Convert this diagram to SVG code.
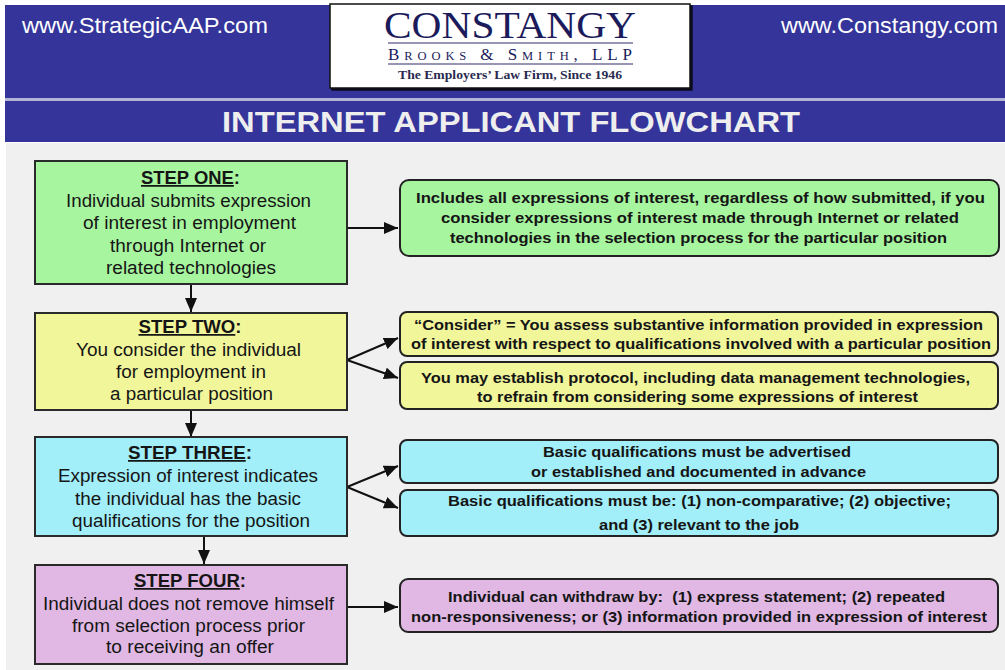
<svg xmlns="http://www.w3.org/2000/svg" width="1005" height="670" viewBox="0 0 1005 670">
<defs>
<marker id="ah" markerUnits="userSpaceOnUse" markerWidth="14" markerHeight="12" refX="14" refY="6" orient="auto">
<path d="M0,0 L14,6 L0,12 z" fill="#111"/>
</marker>
<filter id="sh" x="-5%" y="-5%" width="110%" height="115%">
<feDropShadow dx="2" dy="2" stdDeviation="0.6" flood-color="#000" flood-opacity="0.8"/>
</filter>
</defs>
<style>
.step{stroke:#2a2a2a;stroke-width:2}
.note{stroke:#222;stroke-width:2}
.g{fill:#a8f5a0}.y{fill:#f1f69b}.c{fill:#a2eef9}.p{fill:#e0b8e3}
.lt{font-family:"Liberation Sans",Arial,sans-serif;font-size:17.5px;fill:#151515;text-anchor:middle}
.st{font-family:"Liberation Sans",Arial,sans-serif;font-size:17.5px;font-weight:bold;fill:#151515;text-anchor:middle}
.rt{font-family:"Liberation Sans",Arial,sans-serif;font-size:15.5px;font-weight:bold;fill:#151515;text-anchor:middle}
.conn{stroke:#111;stroke-width:2;fill:none;marker-end:url(#ah)}
.hd{font-family:"Liberation Sans",Arial,sans-serif;font-size:22px;fill:#ffffff}
</style>
<rect x="0" y="0" width="1005" height="670" fill="#ffffff"/>
<rect x="6" y="143" width="999" height="527" fill="#f0f0f0"/>
<rect x="5" y="5" width="1000" height="93" fill="#34349a"/>
<rect x="5" y="98" width="1000" height="3" fill="#b4b4d6"/>
<rect x="5" y="101" width="1000" height="41" fill="#34349a"/>
<text class="hd" x="22" y="33" textLength="246" lengthAdjust="spacingAndGlyphs">www.StrategicAAP.com</text>
<text class="hd" x="781" y="33" textLength="217" lengthAdjust="spacingAndGlyphs">www.Constangy.com</text>
<g id="logo">
<rect x="330" y="4" width="360" height="84" fill="#ffffff" stroke="#111" stroke-width="1.5" filter="url(#sh)"/>
<text x="510" y="38" text-anchor="middle" font-family="Liberation Serif,'Times New Roman',serif" font-size="38" fill="#1b1b5c" textLength="252" lengthAdjust="spacingAndGlyphs">CONSTANGY</text>
<rect x="388" y="42" width="245" height="2" fill="#9696b4"/>
<text x="510" y="60" text-anchor="middle" font-family="Liberation Serif,'Times New Roman',serif" fill="#1b1b5c" textLength="244" lengthAdjust="spacing"><tspan font-size="17">B</tspan><tspan font-size="12.5">ROOKS</tspan><tspan font-size="17"> &amp; S</tspan><tspan font-size="12.5">MITH</tspan><tspan font-size="17">, LLP</tspan></text>
<rect x="388" y="63" width="245" height="2" fill="#9696b4"/>
<text x="510" y="79" text-anchor="middle" font-family="Liberation Serif,'Times New Roman',serif" font-size="13.5" font-weight="bold" fill="#2a2a50" textLength="224" lengthAdjust="spacingAndGlyphs">The Employers’ Law Firm, Since 1946</text>
</g>
<text x="511" y="132" text-anchor="middle" font-family="Liberation Sans,Arial,sans-serif" font-size="30" font-weight="bold" fill="#eeeeee" textLength="578" lengthAdjust="spacingAndGlyphs">INTERNET APPLICANT FLOWCHART</text>

<g id="connectors">
<line class="conn" x1="191" y1="284" x2="191" y2="312"/>
<line class="conn" x1="191" y1="410" x2="191" y2="437"/>
<line class="conn" x1="204" y1="536" x2="204" y2="564"/>
<line class="conn" x1="347" y1="228" x2="398" y2="228"/>
<line class="conn" x1="347" y1="360" x2="398" y2="338"/>
<line class="conn" x1="347" y1="360" x2="398" y2="378"/>
<line class="conn" x1="347" y1="487" x2="398" y2="466"/>
<line class="conn" x1="347" y1="487" x2="398" y2="508"/>
<line class="conn" x1="347" y1="607" x2="398" y2="607"/>
</g>

<g id="step1">
<rect class="step g" x="35" y="161" width="312" height="123"/>
<text class="st" x="190.5" y="184" textLength="99" lengthAdjust="spacingAndGlyphs"><tspan text-decoration="underline">STEP ONE</tspan>:</text>
<text class="lt" x="188.5" y="207" textLength="245" lengthAdjust="spacingAndGlyphs">Individual submits expression</text>
<text class="lt" x="189.5" y="229" textLength="213" lengthAdjust="spacingAndGlyphs">of interest in employment</text>
<text class="lt" x="188" y="252" textLength="156" lengthAdjust="spacingAndGlyphs">through Internet or</text>
<text class="lt" x="191" y="274" textLength="170" lengthAdjust="spacingAndGlyphs">related technologies</text>
</g>
<g id="step2">
<rect class="step y" x="35" y="313" width="312" height="97"/>
<text class="st" x="190" y="333" textLength="103" lengthAdjust="spacingAndGlyphs"><tspan text-decoration="underline">STEP TWO</tspan>:</text>
<text class="lt" x="188.5" y="356" textLength="225" lengthAdjust="spacingAndGlyphs">You consider the individual</text>
<text class="lt" x="191" y="378" textLength="150" lengthAdjust="spacingAndGlyphs">for employment in</text>
<text class="lt" x="191.5" y="400" textLength="163" lengthAdjust="spacingAndGlyphs">a particular position</text>
</g>
<g id="step3">
<rect class="step c" x="35" y="437" width="312" height="99"/>
<text class="st" x="190" y="459" textLength="124" lengthAdjust="spacingAndGlyphs"><tspan text-decoration="underline">STEP THREE</tspan>:</text>
<text class="lt" x="188" y="482" textLength="260" lengthAdjust="spacingAndGlyphs">Expression of interest indicates</text>
<text class="lt" x="188" y="505" textLength="226" lengthAdjust="spacingAndGlyphs">the individual has the basic</text>
<text class="lt" x="191" y="527" textLength="238" lengthAdjust="spacingAndGlyphs">qualifications for the position</text>
</g>
<g id="step4">
<rect class="step p" x="35" y="565" width="312" height="99"/>
<text class="st" x="190" y="587" textLength="112" lengthAdjust="spacingAndGlyphs"><tspan text-decoration="underline">STEP FOUR</tspan>:</text>
<text class="lt" x="188.5" y="610" textLength="291" lengthAdjust="spacingAndGlyphs">Individual does not remove himself</text>
<text class="lt" x="188.5" y="632" textLength="233" lengthAdjust="spacingAndGlyphs">from selection process prior</text>
<text class="lt" x="190" y="653" textLength="168" lengthAdjust="spacingAndGlyphs">to receiving an offer</text>
</g>

<g id="noteA">
<rect class="note g" x="400" y="180" width="599" height="76" rx="9"/>
<text class="rt" x="700.5" y="203" textLength="569" lengthAdjust="spacingAndGlyphs">Includes all expressions of interest, regardless of how submitted, if you</text>
<text class="rt" x="700" y="223" textLength="518" lengthAdjust="spacingAndGlyphs">consider expressions of interest made through Internet or related</text>
<text class="rt" x="698.5" y="243" textLength="497" lengthAdjust="spacingAndGlyphs">technologies in the selection process for the particular position</text>
</g>
<g id="noteB">
<rect class="note y" x="400" y="312" width="598" height="44" rx="7"/>
<text class="rt" x="698.5" y="330" textLength="569" lengthAdjust="spacingAndGlyphs">“Consider” = You assess substantive information provided in expression</text>
<text class="rt" x="701" y="349" textLength="580" lengthAdjust="spacingAndGlyphs">of interest with respect to qualifications involved with a particular position</text>
</g>
<g id="noteC">
<rect class="note y" x="400" y="362" width="598" height="47" rx="7"/>
<text class="rt" x="695.5" y="383" textLength="549" lengthAdjust="spacingAndGlyphs">You may establish protocol, including data management technologies,</text>
<text class="rt" x="697.5" y="402" textLength="441" lengthAdjust="spacingAndGlyphs">to refrain from considering some expressions of interest</text>
</g>
<g id="noteD">
<rect class="note c" x="400" y="440" width="598" height="43" rx="7"/>
<text class="rt" x="697" y="457" textLength="308" lengthAdjust="spacingAndGlyphs">Basic qualifications must be advertised</text>
<text class="rt" x="698.5" y="477" textLength="335" lengthAdjust="spacingAndGlyphs">or established and documented in advance</text>
</g>
<g id="noteE">
<rect class="note c" x="400" y="490" width="598" height="46" rx="7"/>
<text class="rt" x="699.5" y="506" textLength="503" lengthAdjust="spacingAndGlyphs">Basic qualifications must be: (1) non-comparative; (2) objective;</text>
<text class="rt" x="699" y="530" textLength="200" lengthAdjust="spacingAndGlyphs">and (3) relevant to the job</text>
</g>
<g id="noteF">
<rect class="note p" x="400" y="579" width="598" height="53" rx="8"/>
<text class="rt" x="696.5" y="602" textLength="497" lengthAdjust="spacingAndGlyphs" xml:space="preserve">Individual can withdraw by:  (1) express statement; (2) repeated</text>
<text class="rt" x="699" y="622" textLength="576" lengthAdjust="spacingAndGlyphs">non-responsiveness; or (3) information provided in expression of interest</text>
</g>
</svg>
